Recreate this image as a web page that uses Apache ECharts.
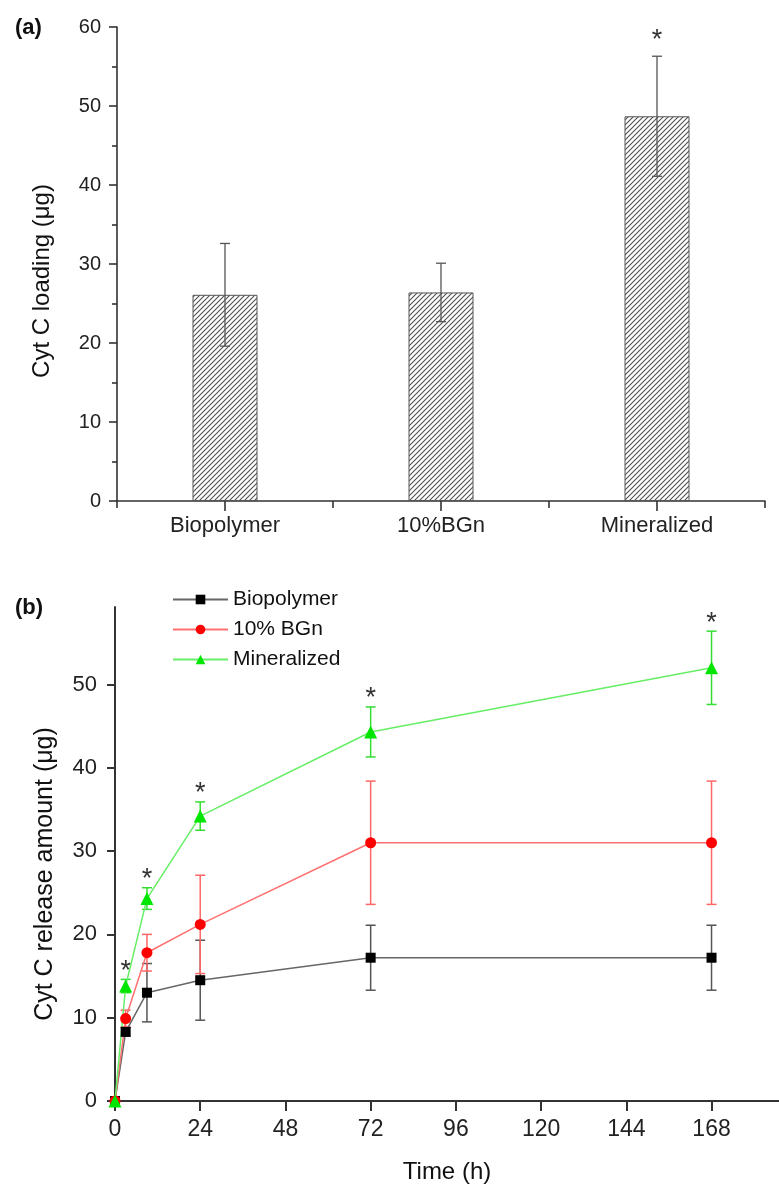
<!DOCTYPE html>
<html><head><meta charset="utf-8">
<script src="https://cdn.jsdelivr.net/npm/echarts@6/dist/echarts.min.js"></script>
<style>html,body{margin:0;padding:0;background:#fff}#c{width:779px;height:1190px}</style>
</head><body><div id="c"></div>
<script>
// ---- Panel (a) data ----
const loadCategories = ['Biopolymer', '10%BGn', 'Mineralized'];
const loadValues = [26.1, 26.4, 48.7];
const loadErrors = [6.5, 3.7, 7.6];
const loadSig = [0, 0, 1];
const loadTicks = [0, 10, 20, 30, 40, 50, 60];

// ---- Panel (b) data ----
const releaseTimes = [0, 3, 9, 24, 72, 168];
const bioRelease = [0, 8.3, 13.0, 14.5, 17.2, 17.2];
const bioErr = [0, 0.5, 3.5, 4.8, 3.9, 3.9];
const bgnRelease = [0, 9.9, 17.8, 21.2, 31.0, 31.0];
const bgnErr = [0, 1.0, 2.2, 5.9, 7.4, 7.4];
const minRelease = [0, 13.8, 24.3, 34.2, 44.3, 52.0];
const minErr = [0, 0.8, 1.3, 1.7, 3.0, 4.4];
const minSig = [0, 1, 1, 1, 1, 1];
const timeTicks = [0, 24, 48, 72, 96, 120, 144, 168];
const releaseTicks = [0, 10, 20, 30, 40, 50];

const FONT = '"Liberation Sans", Arial, sans-serif';

function hatch() {
  const n = 5;
  const c = document.createElement('canvas');
  c.width = n; c.height = n;
  const g = c.getContext('2d');
  g.fillStyle = '#fff'; g.fillRect(0, 0, n, n);
  g.strokeStyle = '#505050'; g.lineWidth = 1.1;
  g.beginPath();
  g.moveTo(-1, n + 1); g.lineTo(n + 1, -1);
  g.moveTo(-1, 1); g.lineTo(1, -1);
  g.moveTo(n - 1, n + 1); g.lineTo(n + 1, n - 1);
  g.stroke();
  return c;
}

function errBars(color, cap, lw, starGap) {
  return function (params, api) {
    const x = api.value(0), y = api.value(1), e = api.value(2), s = api.value(3);
    const t = api.coord([x, y + e]), b = api.coord([x, y - e]);
    const st = { stroke: color, lineWidth: lw };
    const ch = [];
    if (e > 0) {
      ch.push({ type: 'line', shape: { x1: t[0], y1: t[1], x2: b[0], y2: b[1] }, style: st });
      ch.push({ type: 'line', shape: { x1: t[0] - cap / 2, y1: t[1], x2: t[0] + cap / 2, y2: t[1] }, style: st });
      ch.push({ type: 'line', shape: { x1: b[0] - cap / 2, y1: b[1], x2: b[0] + cap / 2, y2: b[1] }, style: st });
    }
    if (s) {
      ch.push({ type: 'text', style: { text: '*', x: t[0], y: t[1] - starGap, align: 'center', verticalAlign: 'middle', fill: '#333', fontSize: 27, fontFamily: FONT } });
    }
    return { type: 'group', children: ch };
  };
}

const axisLineStyle = { color: '#333', width: 1.6 };
const chart = echarts.init(document.getElementById('c'), null, { renderer: 'canvas' });

chart.setOption({
  animation: false,
  backgroundColor: '#fff',
  title: [
    { text: '(a)', left: 10, top: 12, textStyle: { fontSize: 22, fontWeight: 'bold', fontFamily: FONT, color: '#111' } },
    { text: '(b)', left: 10, top: 592, textStyle: { fontSize: 22, fontWeight: 'bold', fontFamily: FONT, color: '#111' } }
  ],
  legend: {
    orient: 'vertical', left: 167, top: 584,
    itemWidth: 55, itemHeight: 12, itemGap: 9,
    data: ['Biopolymer', '10% BGn', 'Mineralized'],
    textStyle: { fontSize: 21, fontFamily: FONT, color: '#111' }
  },
  grid: [
    { left: 117, top: 27, width: 648, height: 474 },
    { left: 115, top: 607, width: 664, height: 494 }
  ],
  xAxis: [
    {
      gridIndex: 0, type: 'category', data: loadCategories, position: 'bottom',
      axisLine: { show: true, lineStyle: axisLineStyle },
      axisTick: { show: true, alignWithLabel: true, length: 10, lineStyle: axisLineStyle },
      axisLabel: { fontSize: 22, fontFamily: FONT, color: '#222', margin: 14 },
      splitLine: { show: false }
    },
    {
      gridIndex: 0, type: 'category', data: loadCategories, position: 'bottom',
      axisLine: { show: false },
      axisTick: { show: true, alignWithLabel: false, length: 7, lineStyle: axisLineStyle },
      axisLabel: { show: false },
      splitLine: { show: false }
    },
    {
      gridIndex: 1, type: 'value', min: 0, max: 187, interval: 24,
      name: 'Time (h)', nameLocation: 'middle', nameGap: 59,
      nameTextStyle: { fontSize: 24, fontFamily: FONT, color: '#111' },
      axisLine: { show: true, lineStyle: { color: '#333', width: 2 } },
      axisTick: { show: true, length: 10, customValues: timeTicks, lineStyle: { color: '#333', width: 2 } },
      axisLabel: { fontSize: 23, fontFamily: FONT, color: '#222', margin: 17, customValues: timeTicks },
      splitLine: { show: false }
    }
  ],
  yAxis: [
    {
      gridIndex: 0, type: 'value', min: 0, max: 60, interval: 10,
      name: 'Cyt C loading (\u03bcg)', nameLocation: 'middle', nameGap: 63,
      nameTextStyle: { fontSize: 24, fontFamily: FONT, color: '#111', padding: [0, 34, 0, 0] },
      axisLine: { show: true, lineStyle: axisLineStyle },
      axisTick: { show: true, length: 8, lineStyle: axisLineStyle },
      minorTick: { show: true, splitNumber: 2, length: 5, lineStyle: axisLineStyle },
      axisLabel: { fontSize: 20, fontFamily: FONT, color: '#222', margin: 16, customValues: loadTicks },
      splitLine: { show: false }, minorSplitLine: { show: false }
    },
    {
      gridIndex: 1, type: 'value', min: 0, max: 59.3, interval: 10,
      name: 'Cyt C release amount (\u03bcg)', nameLocation: 'middle', nameGap: 57,
      nameTextStyle: { fontSize: 25, fontFamily: FONT, color: '#111', padding: [0, 40, 0, 0] },
      axisLine: { show: true, lineStyle: { color: '#333', width: 2 } },
      axisTick: { show: true, length: 8, customValues: releaseTicks, lineStyle: { color: '#333', width: 2 } },
      axisLabel: { fontSize: 22, fontFamily: FONT, color: '#222', margin: 18, customValues: releaseTicks },
      splitLine: { show: false }
    }
  ],
  series: [
    {
      type: 'bar', xAxisIndex: 0, yAxisIndex: 0, barWidth: 65,
      data: loadValues,
      itemStyle: { color: { image: hatch(), repeat: 'repeat' }, borderColor: '#555', borderWidth: 1 }
    },
    {
      type: 'custom', xAxisIndex: 0, yAxisIndex: 0, z: 5,
      renderItem: errBars('#555', 10, 1.3, 16),
      data: loadCategories.map((c, i) => [i, loadValues[i], loadErrors[i], loadSig[i]]),
      encode: { x: 0, y: 1 }
    },
    {
      type: 'custom', xAxisIndex: 2, yAxisIndex: 1, z: 1,
      renderItem: errBars('#555', 10, 1.5, 8),
      data: releaseTimes.map((t, i) => [t, bioRelease[i], bioErr[i], 0]),
      encode: { x: 0, y: 1 }
    },
    {
      type: 'custom', xAxisIndex: 2, yAxisIndex: 1, z: 1,
      renderItem: errBars('#ff6666', 10, 1.5, 8),
      data: releaseTimes.map((t, i) => [t, bgnRelease[i], bgnErr[i], 0]),
      encode: { x: 0, y: 1 }
    },
    {
      type: 'custom', xAxisIndex: 2, yAxisIndex: 1, z: 1,
      renderItem: errBars('#33dd33', 10, 1.5, 8),
      data: releaseTimes.map((t, i) => [t, minRelease[i], minErr[i], minSig[i]]),
      encode: { x: 0, y: 1 }
    },
    {
      name: 'Biopolymer', type: 'line', xAxisIndex: 2, yAxisIndex: 1, z: 3,
      data: releaseTimes.map((t, i) => [t, bioRelease[i]]),
      symbol: 'rect', symbolSize: 10, showAllSymbol: true,
      itemStyle: { color: '#000' }, lineStyle: { color: '#666', width: 1.5 }
    },
    {
      name: '10% BGn', type: 'line', xAxisIndex: 2, yAxisIndex: 1, z: 3,
      data: releaseTimes.map((t, i) => [t, bgnRelease[i]]),
      symbol: 'circle', symbolSize: 11, showAllSymbol: true,
      itemStyle: { color: '#ff0000' }, lineStyle: { color: '#ff7070', width: 1.5 }
    },
    {
      name: 'Mineralized', type: 'line', xAxisIndex: 2, yAxisIndex: 1, z: 3,
      data: releaseTimes.map((t, i) => [t, minRelease[i]]),
      symbol: 'triangle', symbolSize: 13, showAllSymbol: true,
      itemStyle: { color: '#00e600' }, lineStyle: { color: '#66ee66', width: 1.5 }
    }
  ]
});
</script></body></html>
